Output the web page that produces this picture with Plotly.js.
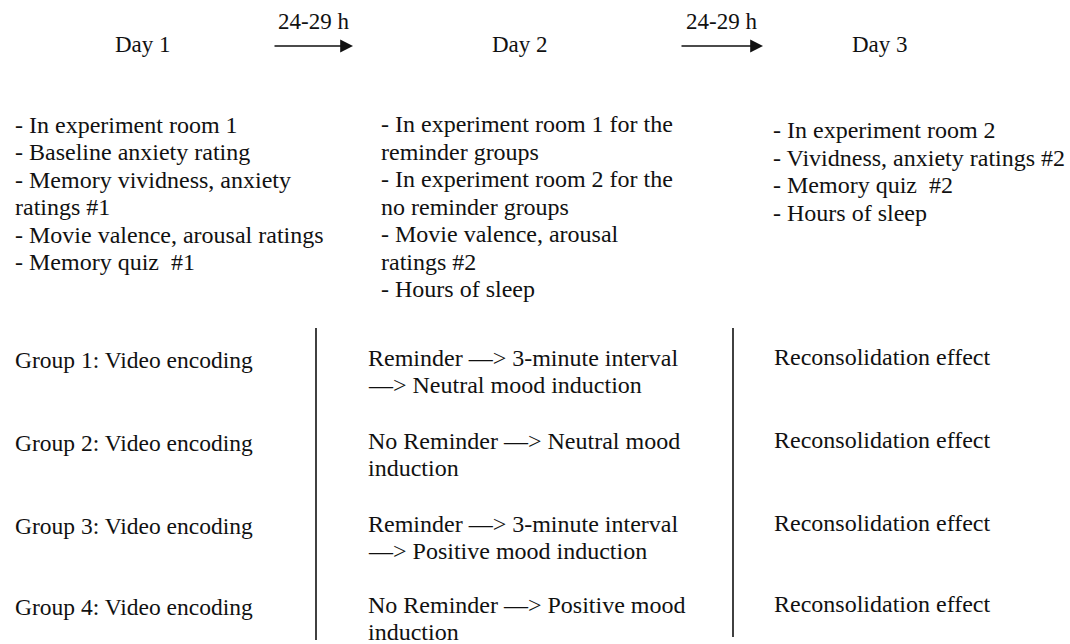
<!DOCTYPE html>
<html>
<head>
<meta charset="utf-8">
<script src="https://cdn.plot.ly/plotly-3.0.1.min.js"></script>
<style>html,body{margin:0;padding:0;background:#fff;}#chart{width:1070px;height:644px;}</style>
</head>
<body>
<div id="chart"></div>
<script>
// ---- content ----
const dayLabels = ["Day 1", "Day 2", "Day 3"];
const intervalLabels = ["24-29 h", "24-29 h"];
const day1Items = ["- In experiment room 1", "- Baseline anxiety rating", "- Memory vividness, anxiety", "ratings #1", "- Movie valence, arousal ratings", "- Memory quiz  #1"];
const day2Items = ["- In experiment room 1 for the", "reminder groups", "- In experiment room 2 for the", "no reminder groups", "- Movie valence, arousal", "ratings #2", "- Hours of sleep"];
const day3Items = ["- In experiment room 2", "- Vividness, anxiety ratings #2", "- Memory quiz  #2", "- Hours of sleep"];
const groupLabels = ["Group 1: Video encoding", "Group 2: Video encoding", "Group 3: Video encoding", "Group 4: Video encoding"];
const day2Conditions = [
  ["Reminder \u2014> 3-minute interval", "\u2014> Neutral mood induction"],
  ["No Reminder \u2014> Neutral mood", "induction"],
  ["Reminder \u2014> 3-minute interval", "\u2014> Positive mood induction"],
  ["No Reminder \u2014> Positive mood", "induction"]
];
const day3Effects = ["Reconsolidation effect", "Reconsolidation effect", "Reconsolidation effect", "Reconsolidation effect"];

// ---- layout helpers (pixel-space canvas) ----
const W = 1070, H = 644;
const FAMILY = "Liberation Serif, Times New Roman, serif";
const INK = "#111";
const dayX = [143, 520, 880], dayY = 44;
const arrows = [[273, 353], [680, 763]], arrowY = 46, intervalY = 21;
const listLeft = [13, 379, 771];
const listTop = [125, 124, 130], listStep = [27.4, 27.5, 27.7];
const groupLeft = [13, 366, 772];
const groupRows = [360, 443, 526, 607], condStep = 26.5;
const dividers = [[316, 328, 640], [733, 328, 637]];

const ann = [];
function txt(x, y, t, xa, size) {
  ann.push({x: x, y: y, xref: "x", yref: "y", text: t, showarrow: false,
            xanchor: xa || "left", yanchor: "middle",
            font: {family: FAMILY, size: size, color: INK}});
}
dayLabels.forEach((d, i) => txt(dayX[i], dayY, d, "center", 23));
intervalLabels.forEach((t, i) => {
  const [a, b] = arrows[i];
  txt((a + b) / 2, intervalY, t, "center", 23);
  ann.push({x: b, y: arrowY, ax: a, ay: arrowY, xref: "x", yref: "y", axref: "x", ayref: "y",
            text: "", showarrow: true, arrowhead: 2, arrowsize: 1.6, arrowwidth: 1.6, arrowcolor: INK});
});
[day1Items, day2Items, day3Items].forEach((items, c) =>
  items.forEach((t, i) => txt(listLeft[c], listTop[c] + i * listStep[c], t, "left", 24)));
groupLabels.forEach((g, i) => {
  const y = groupRows[i];
  txt(groupLeft[0], y, g, "left", 23.5);
  day2Conditions[i].forEach((t, j) => txt(groupLeft[1], y - 2 + j * condStep, t, "left", 24));
  txt(groupLeft[2], y - 3, day3Effects[i], "left", 24);
});

const shapes = dividers.map(([x, y0, y1]) => ({type: "line", xref: "x", yref: "y", x0: x, x1: x, y0: y0, y1: y1,
  line: {color: INK, width: 1.6}}));

Plotly.newPlot("chart", [], {
  width: W, height: H, margin: {l: 0, r: 0, t: 0, b: 0},
  paper_bgcolor: "#fff", plot_bgcolor: "#fff",
  xaxis: {range: [0, W], visible: false, fixedrange: true},
  yaxis: {range: [H, 0], visible: false, fixedrange: true},
  annotations: ann, shapes: shapes, showlegend: false
}, {displayModeBar: false, staticPlot: true});
</script>
</body>
</html>
